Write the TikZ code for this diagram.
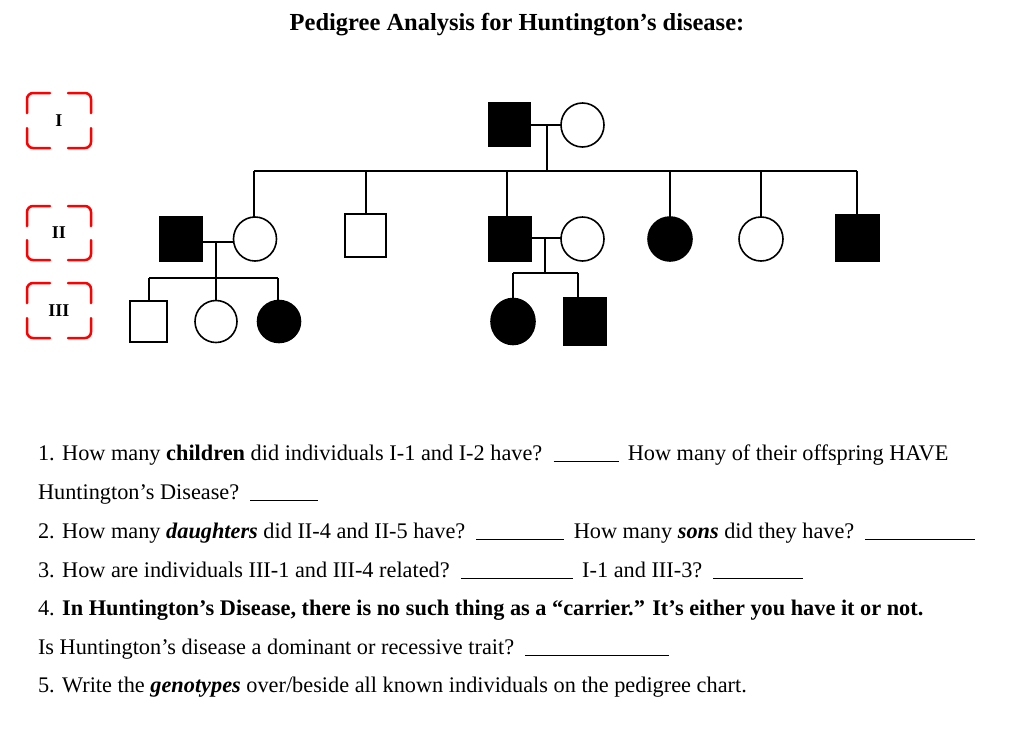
\documentclass[tikz,border=0pt]{standalone}
\usepackage{fontspec}
\setmainfont{Liberation Serif}
\newcommand{\blank}[1]{\,\rule[-1.5pt]{#1pt}{0.8pt}\,}
\begin{document}
\begin{tikzpicture}[x=1pt,y=-1pt,line width=2pt,
  aff/.style={fill=black,draw=black},
  sq/.style={draw=black,line width=1.6pt},
  ci/.style={draw=black,line width=1.6pt},
  q/.style={anchor=base west,font=\fontsize{22.3}{24}\selectfont,inner sep=0pt},
  gen/.style={font=\bfseries\fontsize{18}{19}\selectfont,inner sep=0pt},
  br/.style={draw=red,line width=2.5pt,line cap=round}]
\useasboundingbox (0,0) rectangle (1024,731);
\node[font=\bfseries\fontsize{24.5}{26}\selectfont] (title) at (517,25) {Pedigree Analysis for Huntington’s disease:};
% generation labels
\foreach \yt/\yb/\lab/\nm in {93/148/I/g1,206/260/II/g2,283/338/III/g3}{
  \node[gen] (\nm) at (59,{(\yt+\yb)/2}) {\lab};
  \draw[br,rounded corners=6pt] (50,\yt) -- (27,\yt) -- (27,{\yt+20});
  \draw[br,rounded corners=6pt] (68,\yt) -- (91,\yt) -- (91,{\yt+20});
  \draw[br,rounded corners=6pt] (50,\yb) -- (27,\yb) -- (27,{\yb-20});
  \draw[br,rounded corners=6pt] (68,\yb) -- (91,\yb) -- (91,{\yb-20});
}
% gen I
\draw[sq,aff] (489,103) rectangle (530,146); \coordinate (i1) at (530,125);
\draw[ci] (582.5,125) ellipse (21.5 and 22); \coordinate (i2) at (561,125);
\draw (i1) -- (i2);
\draw (547,125) -- (547,171);
\draw (254,171) -- (857,171);
% gen II
\draw[sq,aff] (160,217) rectangle (202,261);
\draw[ci] (255,239) ellipse (21.5 and 22);
\draw[sq] (345,214) rectangle (386,257);
\draw[sq,aff] (489,217) rectangle (531,261);
\draw[ci] (582.5,239) ellipse (21.5 and 22);
\draw[ci,aff] (670,239) ellipse (22 and 22);
\draw[ci] (761,239) ellipse (22 and 22);
\draw[sq,aff] (836,215) rectangle (879,261);
\foreach \x/\y in {254/217,366/214,507/217,670/217,761/217,857/215} \draw (\x,171) -- (\x,\y);
\draw (202,242) -- (233.5,242);
\draw (216,242) -- (216,278); \draw (149,278) -- (278,278);
\draw (531,238) -- (561,238);
\draw (545,238) -- (545,273); \draw (513,273) -- (578,273);
% gen III
\draw[sq] (130,301) rectangle (167,342);
\draw[ci] (216,321.5) ellipse (21 and 21);
\draw[ci,aff] (279,321.5) ellipse (21.5 and 21);
\draw[ci,aff] (513,321.5) ellipse (22 and 23);
\draw[sq,aff] (564,298) rectangle (606,345);
\foreach \x/\y in {149/301,216/300,278/300} \draw (\x,278) -- (\x,\y);
\draw (513,273) -- (513,298); \draw (578,273) -- (578,298);
% questions
\node[q] (q1) at (37,460) {1. How many \textbf{children} did individuals I-1 and I-2 have? \blank{65} How many of their offspring HAVE};
\node[q] (q1b) at (37,499) {Huntington’s Disease? \blank{68}};
\node[q] (q2) at (37,538) {2. How many \textbf{\textit{daughters}} did II-4 and II-5 have? \blank{88} How many \textbf{\textit{sons}} did they have? \blank{110}};
\node[q] (q3) at (37,577) {3. How are individuals III-1 and III-4 related? \blank{112} I-1 and III-3? \blank{90}};
\node[q] (q4) at (37,615) {4. \textbf{In Huntington’s Disease, there is no such thing as a “carrier.” It’s either you have it or not.}};
\node[q] (q4b) at (37,654) {Is Huntington’s disease a dominant or recessive trait? \blank{144}};
\node[q] (q5) at (37,692) {5. Write the \textbf{\textit{genotypes}} over/beside all known individuals on the pedigree chart.};
\end{tikzpicture}
\end{document}
